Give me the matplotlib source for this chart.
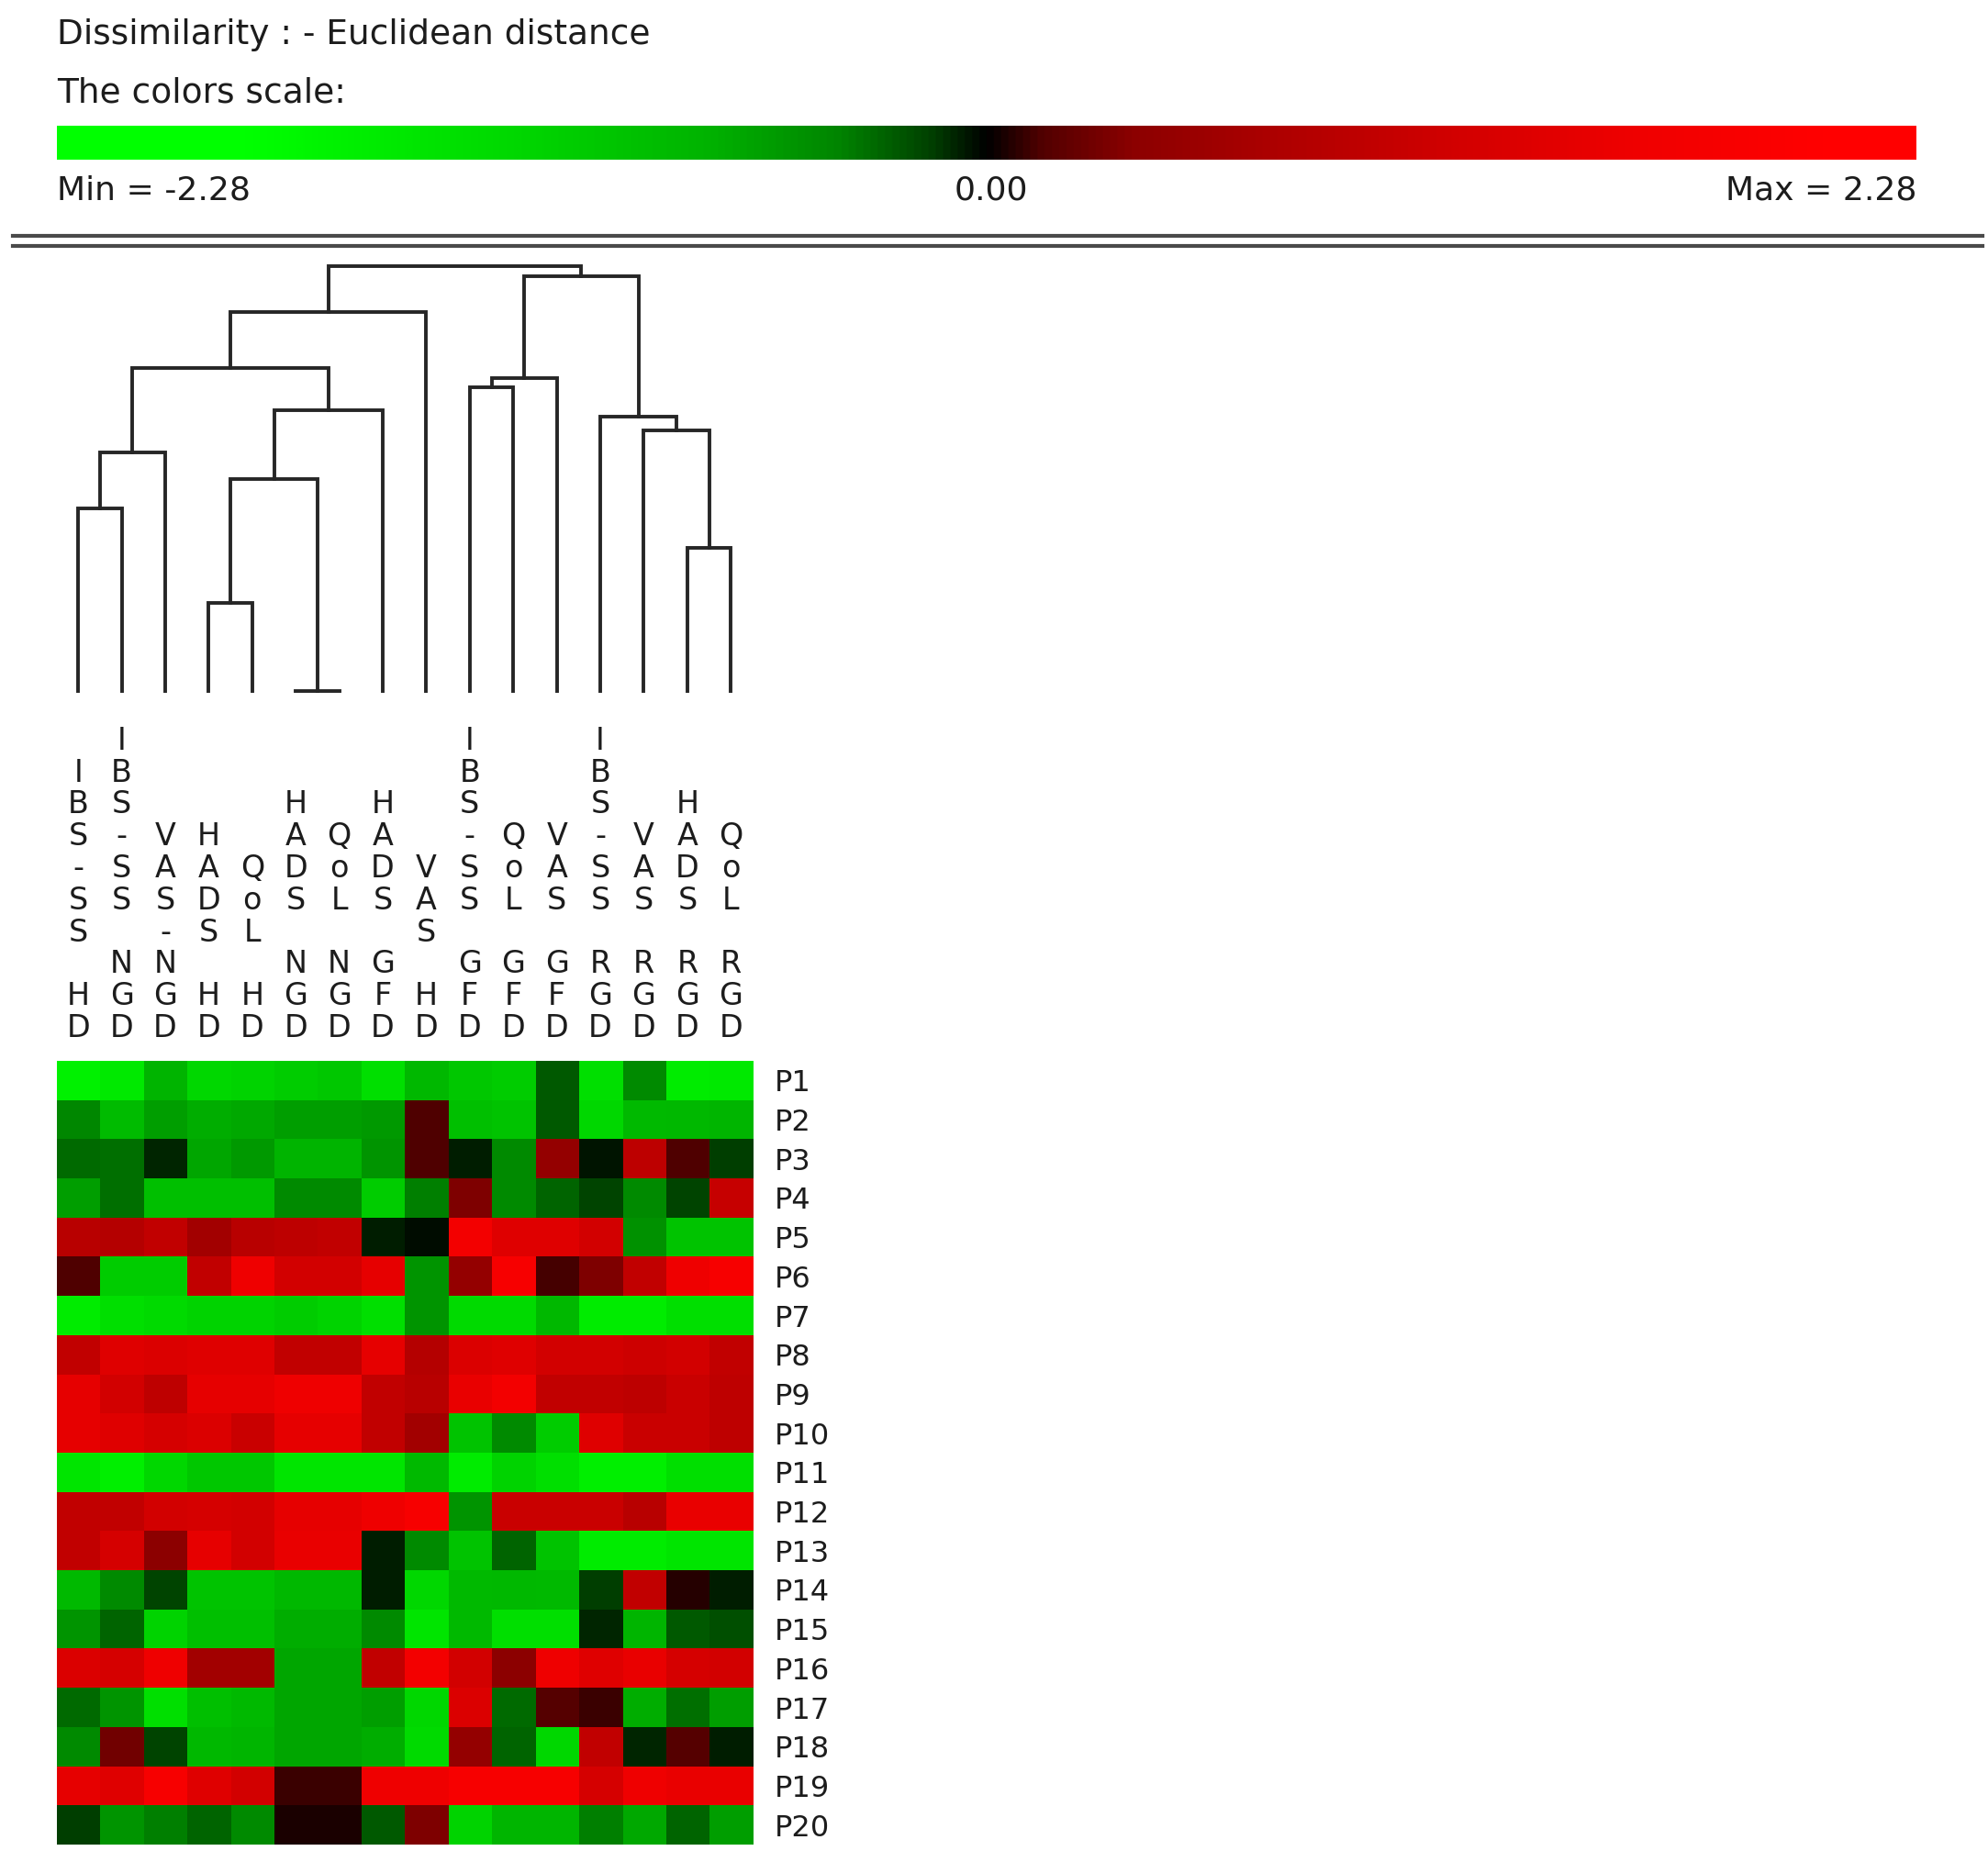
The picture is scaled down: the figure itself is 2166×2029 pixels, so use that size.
import numpy as np
import matplotlib
matplotlib.use("Agg")
import matplotlib.pyplot as plt
from matplotlib.colors import LinearSegmentedColormap
from matplotlib.lines import Line2D
from matplotlib.transforms import blended_transform_factory

W, H = 2166, 2029

vmin, vmax = -2.28, 2.28

variables = ["IBS-SS HD", "IBS-SS NGD", "VAS-NGD", "HADS HD", "QoL HD",
             "HADS NGD", "QoL NGD", "HADS GFD", "VAS HD", "IBS-SS GFD",
             "QoL GFD", "VAS GFD", "IBS-SS RGD", "VAS RGD", "HADS RGD", "QoL RGD"]
patients = ["P%d" % i for i in range(1, 21)]

values = [
    [-1.6, -1.45, -0.7, -1.15, -1.1, -1.0, -0.95, -1.3, -0.75, -0.95, -1.0, -0.22, -1.3, -0.4, -1.5, -1.45],
    [-0.38, -0.8, -0.55, -0.65, -0.62, -0.55, -0.55, -0.5, 0.13, -0.85, -0.9, -0.22, -1.15, -0.78, -0.75, -0.72],
    [-0.28, -0.3, -0.08, -0.6, -0.5, -0.7, -0.7, -0.48, 0.13, -0.07, -0.4, 0.45, -0.05, 0.9, 0.13, -0.13],
    [-0.55, -0.3, -0.85, -0.85, -0.85, -0.4, -0.4, -1.0, -0.35, 0.32, -0.4, -0.25, -0.15, -0.4, -0.15, 1.0],
    [0.85, 0.8, 0.95, 0.6, 0.85, 0.9, 0.95, -0.07, -0.02, 1.7, 1.35, 1.35, 1.15, -0.45, -0.9, -0.9],
    [0.13, -1.0, -1.0, 0.95, 1.6, 1.15, 1.15, 1.45, -0.48, 0.45, 1.8, 0.12, 0.32, 0.95, 1.6, 1.8],
    [-1.5, -1.3, -1.2, -1.1, -1.1, -1.0, -1.1, -1.3, -0.48, -1.2, -1.2, -0.75, -1.5, -1.5, -1.3, -1.3],
    [0.95, 1.35, 1.3, 1.35, 1.35, 0.95, 0.95, 1.45, 0.8, 1.3, 1.35, 1.15, 1.15, 1.1, 1.15, 0.95],
    [1.45, 1.15, 0.92, 1.45, 1.45, 1.6, 1.6, 0.95, 0.85, 1.5, 1.7, 0.95, 0.95, 0.9, 1.05, 0.92],
    [1.45, 1.35, 1.2, 1.3, 1.05, 1.45, 1.45, 0.95, 0.6, -0.9, -0.4, -1.0, 1.35, 1.05, 1.05, 0.92],
    [-1.4, -1.55, -1.15, -0.95, -0.95, -1.4, -1.4, -1.4, -0.78, -1.5, -1.1, -1.3, -1.55, -1.55, -1.3, -1.3],
    [0.95, 0.95, 1.15, 1.2, 1.15, 1.45, 1.45, 1.6, 1.8, -0.48, 1.05, 1.05, 1.05, 0.85, 1.5, 1.5],
    [0.95, 1.2, 0.37, 1.45, 1.15, 1.5, 1.5, -0.06, -0.4, -0.9, -0.25, -0.9, -1.5, -1.5, -1.4, -1.4],
    [-0.78, -0.4, -0.15, -0.9, -0.9, -0.75, -0.75, -0.06, -1.15, -0.78, -0.75, -0.78, -0.13, 0.95, 0.06, -0.07],
    [-0.48, -0.25, -1.1, -0.85, -0.85, -0.65, -0.65, -0.4, -1.4, -0.78, -1.3, -1.3, -0.08, -0.72, -0.22, -0.18],
    [1.3, 1.2, 1.6, 0.6, 0.6, -0.6, -0.6, 0.95, 1.7, 1.15, 0.37, 1.6, 1.35, 1.5, 1.2, 1.15],
    [-0.28, -0.48, -1.3, -0.85, -0.78, -0.6, -0.6, -0.55, -1.15, 1.3, -0.28, 0.15, 0.1, -0.65, -0.3, -0.55],
    [-0.4, 0.25, -0.15, -0.75, -0.72, -0.6, -0.6, -0.65, -1.2, 0.45, -0.25, -1.15, 0.95, -0.08, 0.15, -0.07],
    [1.45, 1.35, 1.8, 1.35, 1.15, 0.1, 0.1, 1.6, 1.6, 1.8, 1.8, 1.8, 1.2, 1.6, 1.5, 1.5],
    [-0.13, -0.48, -0.35, -0.25, -0.4, 0.05, 0.05, -0.22, 0.32, -1.1, -0.72, -0.72, -0.35, -0.62, -0.25, -0.55],
]

# dendrogram merges: (left, right, height); leaves 0..15, new clusters get 16, 17, ...
merges = [
    (0, 1, 5.97),
    (16, 2, 7.80),
    (3, 4, 2.87),
    (5, 6, 0.0),
    (18, 19, 6.93),
    (20, 7, 9.20),
    (17, 21, 10.58),
    (22, 8, 12.40),
    (9, 10, 9.93),
    (24, 11, 10.25),
    (14, 15, 4.67),
    (13, 26, 8.53),
    (12, 27, 8.97),
    (25, 28, 13.57),
    (23, 29, 13.90),
]

cmap = LinearSegmentedColormap.from_list("gbr", [
    (0.00, (0, 1, 0)),
    (0.10, (0, 1, 0)),
    (0.25, (0, 0.84, 0)),
    (0.35, (0, 0.70, 0)),
    (0.42, (0, 0.52, 0)),
    (0.47, (0, 0.25, 0)),
    (0.50, (0, 0, 0)),
    (0.53, (0.32, 0, 0)),
    (0.58, (0.55, 0, 0)),
    (0.65, (0.67, 0, 0)),
    (0.75, (0.82, 0, 0)),
    (0.85, (0.94, 0, 0)),
    (0.95, (1, 0, 0)),
    (1.00, (1, 0, 0)),
])

TXT = "#1c1c1c"


def box(x0, y0, x1, y1):
    # pixel box (top-left origin) -> figure fraction rect
    return [x0 / W, 1 - y1 / H, (x1 - x0) / W, (y1 - y0) / H]


plt.rcParams['font.family'] = ['DejaVu Sans']
fig = plt.figure(figsize=(W / 100, H / 100), dpi=100)

# header
fig.text(62 / W, 1 - 48 / H, "Dissimilarity : - Euclidean distance", fontsize=27, va="baseline", color=TXT)
fig.text(62 / W, 1 - 112 / H, "The colors scale:", fontsize=27, va="baseline", color=TXT)

axc = fig.add_axes(box(62, 137, 2088, 174))
grad = np.linspace(vmin, vmax, 1024)[None, :]
axc.imshow(grad, cmap=cmap, vmin=vmin, vmax=vmax, aspect="auto", extent=(vmin, vmax, 0, 1))
axc.set_axis_off()

fig.text(62 / W, 1 - 218 / H, "Min = %.2f" % vmin, fontsize=26, va="baseline", color=TXT)
fig.text(1080 / W, 1 - 218 / H, "%.2f" % ((vmin + vmax) / 2), fontsize=26, va="baseline", ha="center", color=TXT)
fig.text(2088 / W, 1 - 218 / H, "Max = %.2f" % vmax, fontsize=26, va="baseline", ha="right", color=TXT)

for yy in (257, 268):
    fig.add_artist(Line2D([14 / W, 2160 / W], [1 - yy / H, 1 - yy / H], transform=fig.transFigure,
                          color="#4a4a4a", lw=3))

# heatmap
data = np.array(values)
ax = fig.add_axes(box(61.5, 1156, 820, 2010))
ax.imshow(data, cmap=cmap, vmin=vmin, vmax=vmax, aspect="auto", interpolation="nearest",
          extent=(0, len(variables), len(patients), 0))
ax.set_xticks([])
ax.set_yticks(np.arange(len(patients)) + 0.5)
ax.set_yticklabels(patients, fontsize=23, color=TXT)
ax.yaxis.tick_right()
ax.tick_params(axis="y", length=0, pad=17)
for s in ax.spines.values():
    s.set_visible(False)

# column labels, one character per line
tr = blended_transform_factory(ax.transData, fig.transFigure)
pitch = 34.8
for i, lab in enumerate(variables):
    n = len(lab)
    for k, ch in enumerate(lab):
        if ch == " ":
            continue
        ypx = 1130 - (n - 1 - k) * pitch
        ax.text(i + 0.5, 1 - ypx / H, ch, transform=tr, ha="center", va="baseline",
                fontsize=24, color=TXT, clip_on=False)

# dendrogram
axd = fig.add_axes(box(61.5, 290, 820, 753))
axd.set_xlim(0, len(variables))
axd.set_ylim(0, merges[-1][2])
axd.set_axis_off()
pos = [i + 0.5 for i in range(len(variables))]
hgt = [0.0] * len(variables)
for a, b, h in merges:
    xa, xb = pos[a], pos[b]
    axd.plot([xa, xa, xb, xb], [hgt[a], h, h, hgt[b]], color="#262626", lw=2.8,
             solid_joinstyle="miter", clip_on=False)
    pos.append((xa + xb) / 2)
    hgt.append(h)

fig.savefig("out.png", dpi=100)
